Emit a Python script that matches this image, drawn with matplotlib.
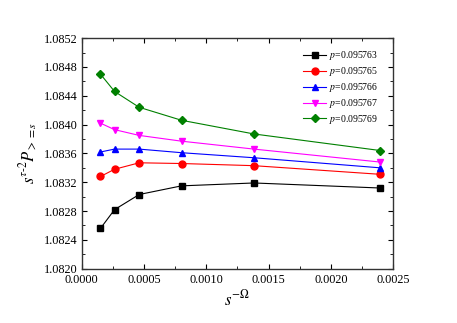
import matplotlib
matplotlib.use("Agg")
import matplotlib.pyplot as plt
from matplotlib.ticker import MultipleLocator

plt.rcParams["font.family"] = "Liberation Serif"
plt.rcParams["mathtext.fontset"] = "stix"

x = [0.000150, 0.000263, 0.000461, 0.000801, 0.001383, 0.002398]

p_labels = ["0.095763", "0.095765", "0.095766", "0.095767", "0.095769"]
y_p63 = [1.08256, 1.08282, 1.08303, 1.08315, 1.08319, 1.08312]
y_p65 = [1.08328, 1.08338, 1.08347, 1.08346, 1.08343, 1.08331]
y_p66 = [1.08362, 1.08366, 1.08366, 1.08361, 1.08354, 1.08340]
y_p67 = [1.08402, 1.08393, 1.08385, 1.08377, 1.08366, 1.08348]
y_p69 = [1.08470, 1.08446, 1.08424, 1.08406, 1.08387, 1.08364]

series = [y_p63, y_p65, y_p66, y_p67, y_p69]
colors = ["black", "red", "blue", "magenta", "green"]
markers = ["s", "o", "^", "v", "D"]
msizes = [4, 5, 5, 5, 4]

fig = plt.figure(figsize=(4.57, 3.23), dpi=100)
ax = fig.add_axes([0.179, 0.168, 0.681, 0.714])

for ys, c, m, ms, lab in zip(series, colors, markers, msizes, p_labels):
    ax.plot(x, ys, color=c, marker=m, markersize=ms, linewidth=0.8,
            label=r"$p$=" + lab)

ax.set_xlim(0, 0.0025)
ax.set_ylim(1.0820, 1.0852)
ax.xaxis.set_major_locator(MultipleLocator(0.0005))
ax.xaxis.set_minor_locator(MultipleLocator(0.00025))
ax.yaxis.set_major_locator(MultipleLocator(0.0004))
ax.yaxis.set_minor_locator(MultipleLocator(0.0002))
ax.xaxis.set_major_formatter(matplotlib.ticker.FormatStrFormatter("%.4f"))
ax.yaxis.set_major_formatter(matplotlib.ticker.FormatStrFormatter("%.4f"))
ax.tick_params(which="both", direction="in", top=True, right=True, labelsize=8.8)
ax.tick_params(which="major", length=3.5)
ax.tick_params(which="minor", length=2)
ax.tick_params(axis="x", pad=4)
ax.tick_params(axis="y", pad=3)
for sp in ax.spines.values():
    sp.set_linewidth(1.0)
    sp.set_color("#333333")

ax.set_xlabel(r"$s^{-\Omega}$", fontsize=12, labelpad=2)
ax.set_ylabel(r"$s^{\tau\text{-}2}P_{>=s}$", fontsize=12, labelpad=3)

ax.legend(loc="upper right", frameon=False, fontsize=7, handlelength=2.4,
          labelspacing=0.3, borderaxespad=0.5, handletextpad=0.3,
          bbox_to_anchor=(0.98, 0.99))

fig.savefig("out.png", dpi=100)
